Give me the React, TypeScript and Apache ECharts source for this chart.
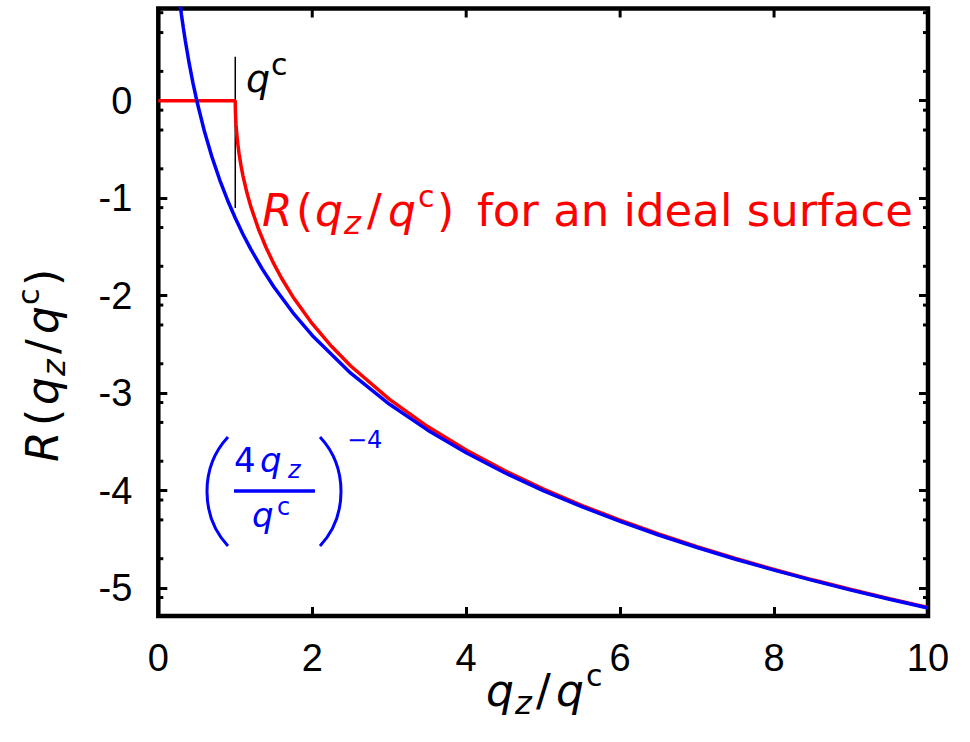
import React, { useEffect, useRef } from "react";
import * as echarts from "echarts";

// ---- data (log10 reflectivity) ----
const xTickValues = [0, 2, 4, 6, 8, 10];
const xInnerTicks = [2, 4, 6, 8];
const yTickValues = [-5, -4, -3, -2, -1, 0];
const yMinorTicks = [
  0.903, 0.699, 0.301, -0.097, -0.301, -0.699, -1.097, -1.301, -1.699,
  -2.097, -2.301, -2.699, -3.097, -3.301, -3.699, -4.097, -4.301, -4.699, -5.097,
];

const redQ = [0, 1, 1.0005, 1.001, 1.002, 1.005, 1.01, 1.02, 1.03, 1.05, 1.075, 1.1, 1.15, 1.2, 1.3, 1.4, 1.5, 1.6, 1.75, 2, 2.25, 2.5, 3, 3.5, 4, 4.5, 5, 5.5, 6, 6.5, 7, 7.5, 8, 8.5, 9, 9.5, 10];
const redR = [0, 0, -0.0549, -0.0777, -0.1098, -0.1736, -0.2455, -0.3469, -0.4245, -0.547, -0.6687, -0.7706, -0.9401, -1.0812, -1.3141, -1.5062, -1.6719, -1.8188, -2.013, -2.2878, -2.5199, -2.7218, -3.0622, -3.3438, -3.5845, -3.7951, -3.9824, -4.151, -4.3045, -4.4454, -4.5756, -4.6966, -4.8097, -4.9158, -5.0157, -5.1102, -5.1998];

const blueQ = [0.28, 0.3, 0.325, 0.35, 0.4, 0.45, 0.5, 0.6, 0.7, 0.8, 0.9, 1, 1.1, 1.2, 1.35, 1.5, 1.75, 2, 2.5, 3, 3.5, 4, 4.5, 5, 5.5, 6, 6.5, 7, 7.5, 8, 8.5, 9, 9.5, 10];
const blueR = [1.0073, 0.8874, 0.7484, 0.6196, 0.3876, 0.183, 0, -0.3167, -0.5845, -0.8165, -1.0211, -1.2041, -1.3697, -1.5208, -1.7255, -1.9085, -2.1763, -2.4082, -2.7959, -3.1126, -3.3804, -3.6124, -3.817, -4.0, -4.1656, -4.3167, -4.4558, -4.5845, -4.7044, -4.8165, -4.9218, -5.0211, -5.115, -5.2041];

const qcMarkerQ = [1, 1];
const qcMarkerR = [0.45, -1.1];

const X_MIN = 0, X_MAX = 10;
const Y_MIN = -5.287, Y_MAX = 0.946;

const RED = "#ff0000";
const BLUE = "#0000ff";
const MF = "DejaVu Sans";
const TF = "Liberation Sans";

function T(text: string, x: number, y: number, size: number, color: string, italic = false, align = "left") {
  return {
    type: "text",
    x,
    y,
    z: 100,
    style: {
      text,
      fontSize: size,
      fontFamily: MF,
      fontStyle: italic ? "italic" : "normal",
      fill: color,
      align,
      verticalAlign: "middle",
    },
  };
}

export default function App() {
  const ref = useRef<HTMLDivElement>(null);
  useEffect(() => {
    document.body.style.margin = "0";
    const chart = echarts.init(ref.current!, null, { renderer: "svg" });
    const zip = (a: number[], b: number[]) => a.map((v, i) => [v, b[i]]);
    const tickStyle = { color: "#000", width: 3 };
    const option: any = {
      animation: false,
      backgroundColor: "#fff",
      grid: {
        left: 158.3,
        right: 42,
        top: 8.5,
        bottom: 126,
        show: true,
        borderColor: "#000",
        borderWidth: 4.5,
        backgroundColor: "transparent",
      },
      xAxis: [
        {
          type: "value",
          position: "bottom",
          min: X_MIN,
          max: X_MAX,
          interval: 2,
          axisLine: { show: false, onZero: false },
          splitLine: { show: false },
          axisTick: { inside: true, length: 9, lineStyle: tickStyle },
          axisLabel: {
            margin: 23,
            fontSize: 38,
            fontFamily: TF,
            color: "#000",
            formatter: (v: number) => (xTickValues.includes(v) ? String(v) : ""),
          },
        },
      ],
      yAxis: [
        {
          type: "value",
          position: "left",
          min: Y_MIN,
          max: Y_MAX,
          splitNumber: 6,
          axisLine: { show: false, onZero: false },
          splitLine: { show: false },
          axisTick: { inside: true, length: 9, lineStyle: tickStyle },
          axisLabel: {
            margin: 26,
            fontSize: 38,
            fontFamily: TF,
            color: "#000",
            showMinLabel: false,
            showMaxLabel: false,
            formatter: (v: number) => {
              const r = Math.round(v);
              return Math.abs(v - r) < 1e-6 && yTickValues.includes(r) ? String(r) : "";
            },
          },
        },
        {
          type: "value",
          position: "right",
          min: Y_MIN,
          max: Y_MAX,
          splitNumber: 6,
          axisLine: { show: false, onZero: false },
          splitLine: { show: false },
          axisTick: { inside: true, length: 9, lineStyle: tickStyle },
          axisLabel: { show: false },
        },
      ],
      series: [
        {
          type: "custom",
          name: "minorTicks",
          xAxisIndex: 0,
          yAxisIndex: 0,
          clip: false,
          silent: true,
          data: yMinorTicks.map((v) => [0, v]),
          encode: { x: 0, y: 1 },
          renderItem: (params: any, api: any) => {
            const y = api.coord([0, api.value(1)])[1];
            const cs = params.coordSys;
            const st = { stroke: "#000", lineWidth: 3 };
            return {
              type: "group",
              children: [
                { type: "line", shape: { x1: cs.x, y1: y, x2: cs.x + 5, y2: y }, style: st },
                { type: "line", shape: { x1: cs.x + cs.width - 5, y1: y, x2: cs.x + cs.width, y2: y }, style: st },
              ],
            };
          },
        },
        {
          type: "custom",
          name: "topTicks",
          xAxisIndex: 0,
          yAxisIndex: 0,
          clip: false,
          silent: true,
          data: xInnerTicks.map((v) => [v, 0]),
          encode: { x: 0, y: 1 },
          renderItem: (params: any, api: any) => {
            const x = api.coord([api.value(0), 0])[0];
            const cs = params.coordSys;
            return {
              type: "line",
              shape: { x1: x, y1: cs.y, x2: x, y2: cs.y + 9 },
              style: { stroke: "#000", lineWidth: 3 },
            };
          },
        },
        {
          type: "line",
          name: "qc",
          data: zip(qcMarkerQ, qcMarkerR),
          symbol: "none",
          lineStyle: { color: "#000", width: 1.5 },
          z: 3,
        },
        {
          type: "line",
          name: "ideal",
          data: zip(redQ, redR),
          symbol: "none",
          lineStyle: { color: RED, width: 3.5 },
          z: 4,
        },
        {
          type: "line",
          name: "asymptote",
          data: zip(blueQ, blueR),
          symbol: "none",
          lineStyle: { color: BLUE, width: 3.5 },
          z: 5,
        },
      ],
      graphic: [
        // q^c label near the critical edge
        T("q", 246, 79, 38, "#000", true),
        T("c", 271, 64, 30, "#000"),
        // red label
        T("R", 262, 210, 44, RED, true),
        T("(", 296, 210, 44, RED),
        T("q", 315, 210, 44, RED, true),
        T("z", 344, 223, 32, RED, true),
        T("/", 367, 210, 44, RED),
        T("q", 388, 210, 44, RED, true),
        T("c", 418, 196, 30, RED),
        T(")", 437, 210, 44, RED),
        T("for an ideal surface", 913, 210, 45, RED, false, "right"),
        // blue formula
        {
          type: "bezierCurve",
          z: 100,
          shape: { x1: 228, y1: 437, cpx1: 200, cpy1: 467, cpx2: 200, cpy2: 516, x2: 228, y2: 546 },
          style: { stroke: BLUE, lineWidth: 3, fill: null },
        },
        {
          type: "bezierCurve",
          z: 100,
          shape: { x1: 320, y1: 437, cpx1: 348, cpy1: 467, cpx2: 348, cpy2: 516, x2: 320, y2: 546 },
          style: { stroke: BLUE, lineWidth: 3, fill: null },
        },
        T("4", 234, 460, 34, BLUE),
        T("q", 260, 460, 34, BLUE, true),
        T("z", 288, 470, 24, BLUE, true),
        {
          type: "line",
          z: 100,
          shape: { x1: 234, y1: 491, x2: 315, y2: 491 },
          style: { stroke: BLUE, lineWidth: 3.5 },
        },
        T("q", 252, 515, 34, BLUE, true),
        T("c", 277, 507, 24, BLUE),
        T("\u22124", 347, 440, 24, BLUE),
        // x axis title
        T("q", 486, 690, 44, "#000", true),
        T("z", 515, 703, 32, "#000", true),
        T("/", 536, 690, 44, "#000"),
        T("q", 556, 690, 44, "#000", true),
        T("c", 586, 675, 30, "#000"),
        // y axis title (rotated)
        {
          type: "group",
          x: 57,
          y: 462,
          rotation: Math.PI / 2,
          children: [
            T("R", 0, -15, 44, "#000", true),
            T("(", 36, -15, 44, "#000"),
            T("q", 57, -15, 44, "#000", true),
            T("z", 86, -3, 32, "#000", true),
            T("/", 108, -15, 44, "#000"),
            T("q", 128, -15, 44, "#000", true),
            T("c", 157, -29, 30, "#000"),
            T(")", 176, -15, 44, "#000"),
          ],
        },
      ],
    };
    chart.setOption(option);
    return () => chart.dispose();
  }, []);
  return <div ref={ref} style={{ width: 970, height: 742 }} />;
}
